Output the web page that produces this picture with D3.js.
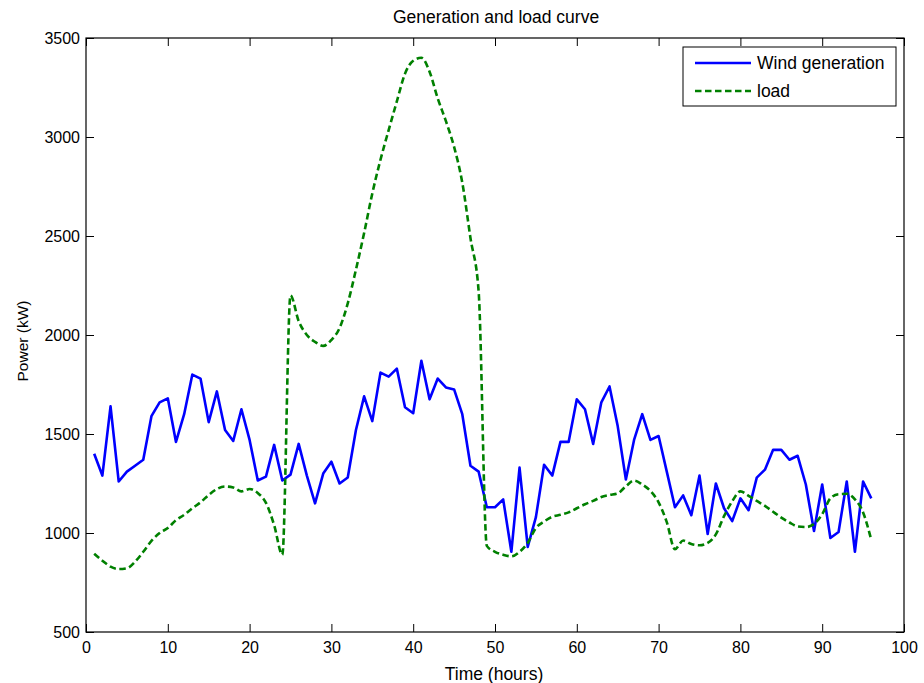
<!DOCTYPE html>
<html>
<head>
<meta charset="utf-8">
<script src="https://cdn.jsdelivr.net/npm/d3@7"></script>
<style>
  html, body { margin: 0; padding: 0; background: #fff; }
  svg { display: block; }
  text { font-family: "Liberation Sans", Arial, Helvetica, sans-serif; fill: #000; }
</style>
</head>
<body>
<svg id="chart" width="924" height="683"></svg>
<script>
const hours = [1,2,3,4,5,6,7,8,9,10,11,12,13,14,15,16,17,18,19,20,21,22,23,24,25,26,27,28,29,30,31,32,33,34,35,36,37,38,39,40,41,42,43,44,45,46,47,48,49,50,51,52,53,54,55,56,57,58,59,60,61,62,63,64,65,66,67,68,69,70,71,72,73,74,75,76,77,78,79,80,81,82,83,84,85,86,87,88,89,90,91,92,93,94,95,96];

const windGeneration = [1400,1290,1640,1260,1310,1340,1370,1590,1660,1680,
  1460,1600,1800,1780,1560,1715,1520,1465,1625,1470,
  1265,1285,1445,1265,1295,1450,1290,1150,1300,1360,
  1250,1280,1520,1690,1565,1810,1790,1830,1635,1605,
  1870,1675,1780,1735,1725,1600,1340,1310,1130,1130,
  1170,905,1330,930,1080,1345,1290,1460,1460,1675,
  1625,1450,1660,1740,1540,1270,1470,1600,1470,1490,
  1310,1130,1190,1090,1290,995,1250,1125,1060,1175,
  1115,1280,1320,1420,1420,1370,1390,1245,1010,1245,
  975,1005,1260,905,1260,1175];

const load = [895,860,830,818,822,855,905,960,1000,1025,
  1065,1092,1125,1155,1192,1222,1235,1230,1210,1222,
  1202,1152,1040,890,2200,2070,2000,1965,1945,1975,
  2035,2160,2330,2515,2715,2885,3035,3180,3320,3385,
  3400,3330,3195,3080,2950,2770,2490,2220,935,905,
  890,882,905,950,1025,1058,1082,1092,1104,1125,
  1145,1162,1182,1192,1200,1236,1265,1245,1212,1155,
  1055,918,962,944,938,950,993,1085,1160,1210,
  1188,1162,1137,1107,1078,1053,1033,1030,1045,1095,
  1175,1196,1198,1170,1104,965];

const xTicks = [0,10,20,30,40,50,60,70,80,90,100];
const yTicks = [500,1000,1500,2000,2500,3000,3500];
const seriesNames = ["Wind generation", "load"];
const titleText = "Generation and load curve";
const xLabel = "Time (hours)";
const yLabel = "Power (kW)";

const svg = d3.select("#chart");
const L = 86, R = 904, T = 38, B = 632;
const x = d3.scaleLinear().domain([0, 100]).range([L, R]);
const y = d3.scaleLinear().domain([500, 3500]).range([B, T]);
const tickLen = 8;
const fs = 16;

const g = svg.append("g");

const xb = g.append("g").attr("transform", `translate(0,${B})`)
  .call(d3.axisBottom(x).tickValues(xTicks).tickSizeInner(-tickLen).tickSizeOuter(0).tickPadding(10).tickFormat(d3.format("d")));
const xt = g.append("g").attr("transform", `translate(0,${T})`)
  .call(d3.axisTop(x).tickValues(xTicks).tickSizeInner(-tickLen).tickSizeOuter(0).tickFormat(""));
const yl = g.append("g").attr("transform", `translate(${L},0)`)
  .call(d3.axisLeft(y).tickValues(yTicks).tickSizeInner(-tickLen).tickSizeOuter(0).tickPadding(6).tickFormat(d3.format("d")));
const yr = g.append("g").attr("transform", `translate(${R},0)`)
  .call(d3.axisRight(y).tickValues(yTicks).tickSizeInner(-tickLen).tickSizeOuter(0).tickFormat(""));

[xb, xt, yl, yr].forEach(a => {
  a.selectAll(".domain").remove();
  a.selectAll("line").attr("stroke", "#000").attr("stroke-width", 1);
  a.selectAll("text").attr("font-size", fs).attr("font-family", "Liberation Sans, Arial, sans-serif").attr("fill", "#000");
});

const windLine = d3.line().x((d, i) => x(hours[i])).y(d => y(d)).curve(d3.curveLinear);
const loadLine = d3.line().x((d, i) => x(hours[i])).y(d => y(d)).curve(d3.curveMonotoneX);

svg.append("clipPath").attr("id", "clip").append("rect")
  .attr("x", L).attr("y", T).attr("width", R - L).attr("height", B - T);

const plot = svg.append("g").attr("clip-path", "url(#clip)");
plot.append("path").datum(windGeneration).attr("d", windLine)
  .attr("fill", "none").attr("stroke", "#0000ff").attr("stroke-width", 2.6).attr("stroke-linejoin", "round");
plot.append("path").datum(load).attr("d", loadLine)
  .attr("fill", "none").attr("stroke", "#008000").attr("stroke-width", 2.6).attr("stroke-dasharray", "6.5,3.5");

svg.append("rect").attr("x", L).attr("y", T).attr("width", R - L).attr("height", B - T)
  .attr("fill", "none").attr("stroke", "#000").attr("stroke-width", 1.2);

svg.append("text").attr("x", 496).attr("y", 23).attr("text-anchor", "middle")
  .attr("font-size", 17.5).text(titleText);
svg.append("text").attr("x", 494).attr("y", 680).attr("text-anchor", "middle")
  .attr("font-size", 17.5).text(xLabel);
svg.append("text").attr("transform", `translate(28,341) rotate(-90)`).attr("text-anchor", "middle")
  .attr("font-size", 15.5).text(yLabel);

const lg = svg.append("g");
const lx = 683, ly = 47, lw = 213, lh = 59;
lg.append("rect").attr("x", lx).attr("y", ly).attr("width", lw).attr("height", lh)
  .attr("fill", "#fff").attr("stroke", "#000").attr("stroke-width", 1);
const colors = ["#0000ff", "#008000"];
const dashes = [null, "6.5,3.5"];
seriesNames.forEach((name, i) => {
  const yy = ly + 16 + i * 28;
  lg.append("line").attr("x1", lx + 12).attr("x2", lx + 68).attr("y1", yy).attr("y2", yy)
    .attr("stroke", colors[i]).attr("stroke-width", 2.6).attr("stroke-dasharray", dashes[i]);
  lg.append("text").attr("x", lx + 74).attr("y", yy + 6).attr("font-size", 17.5).text(name);
});
</script>
</body>
</html>
